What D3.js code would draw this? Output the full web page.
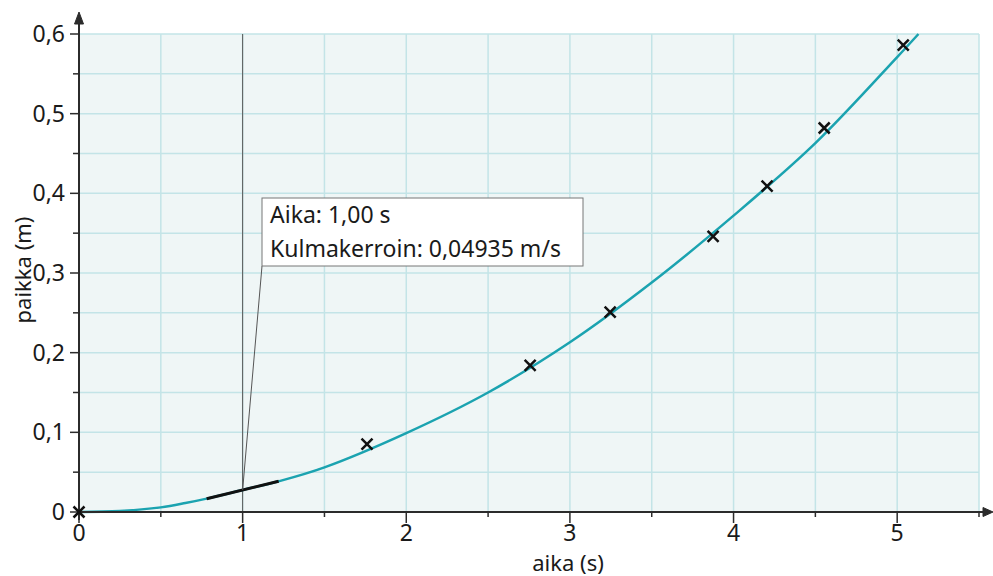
<!DOCTYPE html>
<meta charset="utf-8">
<style>
body { margin:0; background:#fff; font-family:"Noto Sans", sans-serif; }
.grid line { stroke:#c3e4e7; stroke-width:1.5px; }
.axis line, .axis path { stroke:#2b2b2b; }
.ticklabel { font-size:23px; fill:#1a1a1a; }
.axislabel { font-size:22px; fill:#1a1a1a; }
.fit { fill:none; stroke:#1ba3b0; stroke-width:2.5px; }
.tangent { fill:none; stroke:#111; stroke-width:3px; }
.mark { stroke:#111; stroke-width:2.5px; }
.callout text { font-size:23px; fill:#1a1a1a; }
</style>
<body>
<div id="chart"></div>
<script src="https://d3js.org/d3.v7.min.js"></script>
<script>
// measured points (time s, position m)
var measT = [0, 1.76, 2.757, 3.246, 3.875, 4.205, 4.554, 5.037];
var measY = [0, 0.0853, 0.184, 0.251, 0.346, 0.409, 0.482, 0.586];
// fitted curve
var fitT = [0, 0.25, 0.5, 0.65, 0.78, 1.0, 1.22, 1.5, 2.0, 2.5, 3.0, 3.5, 4.0, 4.5, 5.0, 5.13];
var fitY = [0, 0.0012, 0.0058, 0.0112, 0.0168, 0.0276, 0.0385, 0.056, 0.099, 0.150, 0.213, 0.288, 0.372, 0.463, 0.571, 0.600];
// tangent at t = 1
var tanT = [0.78, 1.22];
var tanY = [0.0167, 0.0385];
var xTicks = [0, 1, 2, 3, 4, 5];
var yTicks = [0, 0.1, 0.2, 0.3, 0.4, 0.5, 0.6];
var calloutLines = ["Aika: 1,00 s", "Kulmakerroin: 0,04935 m/s"];

var W = 993, H = 576;
var x = d3.scaleLinear().domain([0, 5.5]).range([79, 979]);
var y = d3.scaleLinear().domain([0, 0.6]).range([512, 34]);
var fmtY = function(v) { return v === 0 ? "0" : d3.format(".1f")(v).replace(".", ","); };

var svg = d3.select("#chart").append("svg").attr("width", W).attr("height", H);

// plot background
svg.append("rect")
    .attr("x", x(0)).attr("y", y(0.6))
    .attr("width", x(5.5) - x(0)).attr("height", y(0) - y(0.6))
    .attr("fill", "#eff6f6");

// gridlines
var grid = svg.append("g").attr("class", "grid");
grid.selectAll(".v").data(d3.range(1, 12).map(function(i) { return i * 0.5; }))
  .enter().append("line")
    .attr("x1", function(d) { return x(d); }).attr("x2", function(d) { return x(d); })
    .attr("y1", y(0)).attr("y2", y(0.6));
grid.selectAll(".h").data(d3.range(1, 13).map(function(i) { return i * 0.05; }))
  .enter().append("line")
    .attr("y1", function(d) { return y(d); }).attr("y2", function(d) { return y(d); })
    .attr("x1", x(0)).attr("x2", x(5.5));

// vertical line at t = 1
svg.append("line")
    .attr("x1", x(1)).attr("x2", x(1))
    .attr("y1", y(0.6)).attr("y2", y(0))
    .attr("stroke", "#555").attr("stroke-width", 1);

// fit curve
var line = d3.line().curve(d3.curveCatmullRom.alpha(0.5))
    .x(function(d) { return x(d[0]); })
    .y(function(d) { return y(d[1]); });
svg.append("path").attr("class", "fit").attr("d", line(d3.zip(fitT, fitY)));
svg.append("path").attr("class", "tangent").attr("d", d3.line()
    .x(function(d) { return x(d[0]); }).y(function(d) { return y(d[1]); })(d3.zip(tanT, tanY)));

// axes
var ax = svg.append("g").attr("class", "axis");
ax.append("line").attr("x1", x(0)).attr("x2", 988).attr("y1", y(0)).attr("y2", y(0)).attr("stroke-width", 2);
ax.append("line").attr("x1", x(0)).attr("x2", x(0)).attr("y1", y(0) + 8).attr("y2", 20).attr("stroke-width", 2);
ax.append("path").attr("d", "M993," + y(0) + "L983," + (y(0) - 4.5) + "L983," + (y(0) + 4.5) + "Z")
    .attr("fill", "#2b2b2b").attr("stroke", "none");
ax.append("path").attr("d", "M" + x(0) + ",12L" + (x(0) - 4.5) + ",24L" + (x(0) + 4.5) + ",24Z")
    .attr("fill", "#2b2b2b").attr("stroke", "none");

// x ticks
ax.selectAll(".xt").data(d3.range(0, 12).map(function(i) { return i * 0.5; }))
  .enter().append("line")
    .attr("x1", function(d) { return x(d); }).attr("x2", function(d) { return x(d); })
    .attr("y1", y(0))
    .attr("y2", function(d) { return y(0) + (d % 1 === 0 ? 11 : 5); })
    .attr("stroke-width", 1.5);
// y ticks
ax.selectAll(".yt").data(d3.range(0, 13).map(function(i) { return i * 0.05; }))
  .enter().append("line")
    .attr("y1", function(d) { return y(d); }).attr("y2", function(d) { return y(d); })
    .attr("x1", x(0))
    .attr("x2", function(d, i) { return x(0) - (i % 2 === 0 ? 9 : 6); })
    .attr("stroke-width", 1.5);

svg.selectAll(".xl").data(xTicks).enter().append("text")
    .attr("class", "ticklabel")
    .attr("x", function(d) { return x(d); }).attr("y", 541)
    .attr("text-anchor", "middle")
    .text(function(d) { return d; });
svg.selectAll(".yl").data(yTicks).enter().append("text")
    .attr("class", "ticklabel")
    .attr("x", 65).attr("y", function(d) { return y(d) + 8; })
    .attr("text-anchor", "end")
    .text(fmtY);

svg.append("text").attr("class", "axislabel")
    .attr("x", 568).attr("y", 571).attr("text-anchor", "middle").text("aika (s)");
svg.append("text").attr("class", "axislabel")
    .attr("transform", "translate(31,270) rotate(-90)")
    .attr("text-anchor", "middle").text("paikka (m)");

// measurement crosses
var marks = svg.append("g");
d3.zip(measT, measY).forEach(function(d) {
  var cx = x(d[0]), cy = y(d[1]), s = 5.5;
  marks.append("path").attr("class", "mark")
    .attr("d", "M" + (cx - s) + "," + (cy - s) + "L" + (cx + s) + "," + (cy + s) +
               "M" + (cx - s) + "," + (cy + s) + "L" + (cx + s) + "," + (cy - s));
});

// callout
var box = {x: 262, y: 198, w: 321, h: 68};
svg.append("line")
    .attr("x1", x(1)).attr("y1", y(0.0276))
    .attr("x2", box.x).attr("y2", box.y + box.h)
    .attr("stroke", "#555").attr("stroke-width", 1);
var co = svg.append("g").attr("class", "callout");
co.append("rect").attr("x", box.x).attr("y", box.y).attr("width", box.w).attr("height", box.h)
    .attr("fill", "#fff").attr("stroke", "#777").attr("stroke-width", 1);
co.selectAll("text").data(calloutLines).enter().append("text")
    .attr("x", box.x + 8).attr("y", function(d, i) { return box.y + 25 + i * 34; })
    .text(function(d) { return d; });
</script>
</body>
